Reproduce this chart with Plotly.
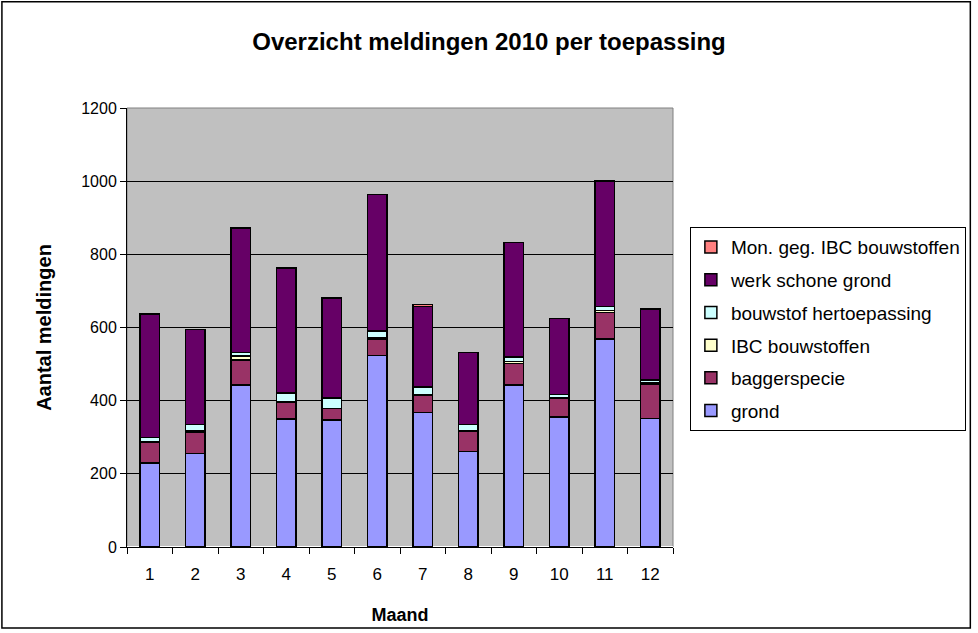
import plotly.graph_objects as go

# data
maanden = ['1', '2', '3', '4', '5', '6', '7', '8', '9', '10', '11', '12']
grond = [230, 255, 443, 350, 347, 523, 368, 261, 443, 356, 568, 351]
baggerspecie = [56, 58, 68, 45, 31, 45, 48, 56, 59, 51, 73, 94]
ibc_bouwstoffen = [2, 4, 11, 1, 1, 5, 1, 1, 5, 2, 5, 5]
bouwstof_hertoepassing = [11, 18, 10, 25, 28, 17, 21, 17, 12, 8, 12, 7]
werk_schone_grond = [338, 259, 340, 341, 273, 374, 220, 197, 313, 207, 342, 193]
mon_geg_ibc = [0, 0, 0, 0, 0, 0, 5, 0, 0, 0, 0, 0]

series = [
    ('grond', grond, '#9999FF'),
    ('baggerspecie', baggerspecie, '#993366'),
    ('IBC bouwstoffen', ibc_bouwstoffen, '#FFFFCC'),
    ('bouwstof hertoepassing', bouwstof_hertoepassing, '#CCFFFF'),
    ('werk schone grond', werk_schone_grond, '#660066'),
    ('Mon. geg. IBC bouwstoffen', mon_geg_ibc, '#FF8080'),
]

fig = go.Figure()

for i, (name, vals, kleur) in enumerate(series):
    # legend shows the top of the stack first
    fig.add_trace(go.Bar(x=maanden, y=vals, name=name, legendgroup=name,
                         legendrank=100 - i,
                         marker=dict(color=kleur, line=dict(color='black', width=1.5))))

font = 'Liberation Sans, Arial, sans-serif'

# plot area 127..677 x 108..550 px
L, R, T, B = 127, 301, 108, 83
W, H = 978 - L - R, 633 - T - B

def px(x):
    return (x - L) / W

def py(y):
    return (633 - B - y) / H

fig.update_layout(
    width=978, height=633,
    margin=dict(l=L, r=R, t=T, b=B),
    paper_bgcolor='white',
    plot_bgcolor='#C0C0C0',
    barmode='stack',
    bargap=0.58,
    font=dict(family=font, size=16, color='black'),
    title=dict(text='<b>Overzicht meldingen 2010 per toepassing</b>',
               x=0.5, xanchor='center', y=1 - 42 / 633, yanchor='middle',
               font=dict(size=24, family=font)),
    legend=dict(x=px(694), y=py(228), xanchor='left', yanchor='top',
                traceorder='grouped', tracegroupgap=5,
                bordercolor='black', borderwidth=1, bgcolor='white',
                font=dict(size=19, family=font)),
    xaxis=dict(type='category', tickson='boundaries', ticks='outside', ticklen=6,
               tickcolor='black', showline=True, linecolor='black', linewidth=1,
               showgrid=False, tickfont=dict(size=17), ticklabelstandoff=12,
               title=dict(text='<b>Maand</b>', font=dict(size=18), standoff=24)),
    yaxis=dict(range=[0, 1200], dtick=200, ticks='outside', ticklen=6,
               tickcolor='black', showline=True, linecolor='black', linewidth=1,
               gridcolor='black', gridwidth=1, tickfont=dict(size=16),
               title=dict(text='<b>Aantal meldingen</b>', font=dict(size=20), standoff=24)),
)

# grey plot area frame and black chart border
fig.add_shape(type='rect', xref='paper', yref='paper', x0=0, y0=0, x1=1, y1=1,
              line=dict(color='#808080', width=1), layer='below')
fig.add_shape(type='rect', xref='paper', yref='paper',
              x0=px(1), y0=py(631.5), x1=px(976.5), y1=py(1),
              line=dict(color='black', width=1.5))

page_js = ("document.documentElement.style.margin='0px';"
           "document.body.style.margin='0px';"
           "document.body.style.overflow='hidden';"
           "document.documentElement.style.overflow='hidden';")

fig.write_html("out.html", config={'displayModeBar': False}, post_script=page_js)
